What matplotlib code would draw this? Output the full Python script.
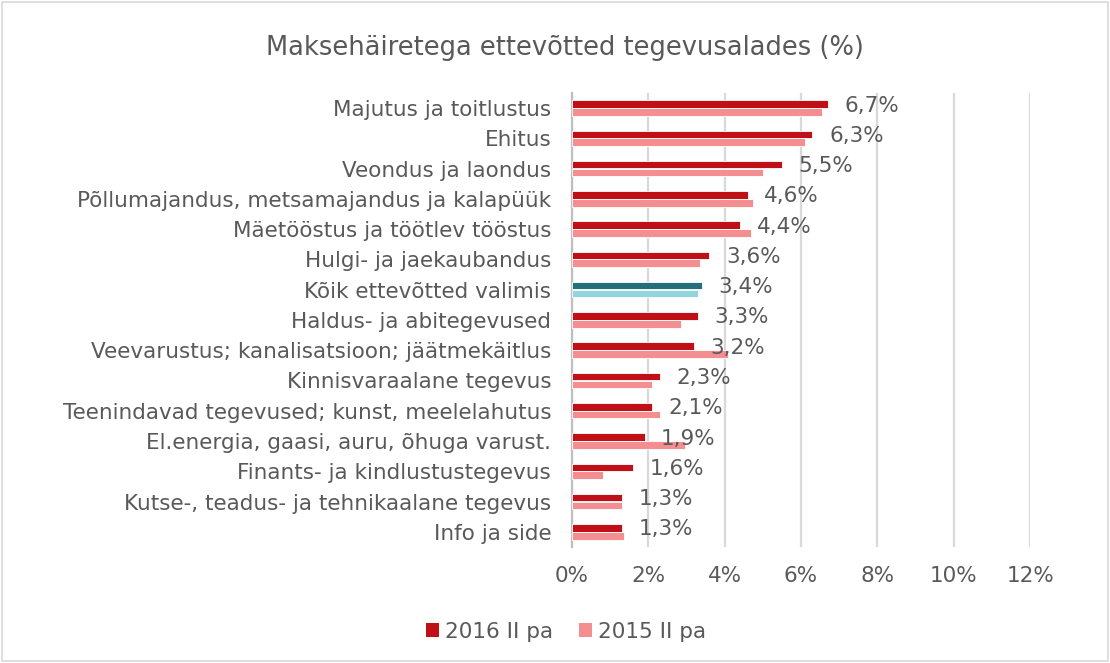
import matplotlib
matplotlib.use("Agg")
import matplotlib.pyplot as plt
import numpy as np
from matplotlib.patches import Rectangle, Patch

plt.rcParams["font.family"] = ["DejaVu Sans"]

CATEGORIES = [
    "Majutus ja toitlustus",
    "Ehitus",
    "Veondus ja laondus",
    "Põllumajandus, metsamajandus ja kalapüük",
    "Mäetööstus ja töötlev tööstus",
    "Hulgi- ja jaekaubandus",
    "Kõik ettevõtted valimis",
    "Haldus- ja abitegevused",
    "Veevarustus; kanalisatsioon; jäätmekäitlus",
    "Kinnisvaraalane tegevus",
    "Teenindavad tegevused; kunst, meelelahutus",
    "El.energia, gaasi, auru, õhuga varust.",
    "Finants- ja kindlustustegevus",
    "Kutse-, teadus- ja tehnikaalane tegevus",
    "Info ja side",
]
VALUES_2016 = [6.7, 6.3, 5.5, 4.6, 4.4, 3.6, 3.4, 3.3, 3.2, 2.3, 2.1, 1.9, 1.6, 1.3, 1.3]
VALUES_2015 = [6.55, 6.1, 5.0, 4.75, 4.7, 3.35, 3.3, 2.85, 4.1, 2.1, 2.3, 2.95, 0.8, 1.3, 1.35]
XTICKS = [0, 2, 4, 6, 8, 10, 12]
SERIES_NAMES = ["2016 II pa", "2015 II pa"]
HIGHLIGHT = "Kõik ettevõtted valimis"

RED = "#C00F16"
PINK = "#F58E90"
TEAL_DARK = "#236F7C"
TEAL_LIGHT = "#92D5DC"
TEXT = "#595959"
GRID = "#D9D9D9"
FS = 15.5

fig = plt.figure(figsize=(11.1, 6.63), dpi=100)
ax = fig.add_axes([0.5153, 0.175, 0.928 - 0.5153, 0.685])

y = np.arange(len(CATEGORIES))
h = 0.25
c16 = [TEAL_DARK if c == HIGHLIGHT else RED for c in CATEGORIES]
c15 = [TEAL_LIGHT if c == HIGHLIGHT else PINK for c in CATEGORIES]
ax.barh(y - 0.13, VALUES_2016, height=h, color=c16, edgecolor="white",
        linewidth=0.6, zorder=3)
ax.barh(y + 0.13, VALUES_2015, height=h, color=c15, edgecolor="white",
        linewidth=0.6, zorder=3)

for yi, v in zip(y, VALUES_2016):
    ax.annotate(f"{v:.1f}%".replace(".", ","), xy=(v, yi - 0.08),
                xytext=(12, 0), textcoords="offset points",
                ha="left", va="center", fontsize=FS, color=TEXT, zorder=4)

ax.set_xlim(0, 12)
ax.set_ylim(len(CATEGORIES) - 0.5, -0.5)
ax.set_xticks(XTICKS)
ax.set_xticklabels([f"{t}%" for t in XTICKS])
ax.set_yticks(y)
ax.set_yticklabels(CATEGORIES)
ax.tick_params(axis="both", length=0, labelsize=FS, labelcolor=TEXT)
ax.tick_params(axis="x", pad=14)
ax.tick_params(axis="y", pad=15)
ax.grid(True, axis="x", color=GRID, linewidth=1.6, zorder=0)
ax.set_axisbelow(True)
for s in ("top", "right", "bottom"):
    ax.spines[s].set_visible(False)
ax.spines["left"].set_color("#BFBFBF")
ax.spines["left"].set_linewidth(1.6)

fig.text(0.509, 0.928, "Maksehäiretega ettevõtted tegevusalades (%)",
         ha="center", va="center", fontsize=18.5, color=TEXT)

handles = [Patch(facecolor=RED), Patch(facecolor=PINK)]
fig.legend(handles, SERIES_NAMES, loc="center", bbox_to_anchor=(0.51, 0.047),
           ncol=2, frameon=False, fontsize=FS, handlelength=0.6,
           handleheight=0.6, handletextpad=0.3, columnspacing=1.2,
           labelcolor=TEXT)

fig.patches.append(Rectangle((0.002, 0.003), 0.996, 0.994, transform=fig.transFigure,
                             fill=False, edgecolor=GRID, linewidth=1.2))

fig.savefig("out.png", dpi=100, facecolor="white")
